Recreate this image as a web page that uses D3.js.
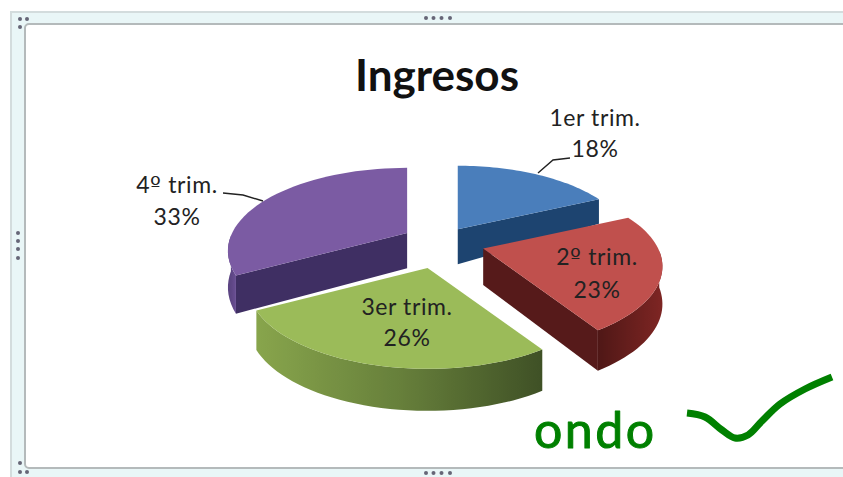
<!DOCTYPE html>
<html>
<head>
<meta charset="utf-8">
<script src="https://cdn.jsdelivr.net/npm/d3@7"></script>
<style>
  /* the ordinal sign takes the underlined form from DejaVu */
  @font-face { font-family: Ord; src: local("DejaVu Sans"); unicode-range: U+BA; }
  html, body { margin: 0; padding: 0; background: #fff; }
  svg { display: block; }
  text { font-family: Ord, Lato, "Open Sans", sans-serif; }
</style>
</head>
<body>
<script>
// values
var categories = ["1er trim.", "2º trim.", "3er trim.", "4º trim."];
var values = [18, 23, 26, 33];

var width = 843, height = 477;

var svg = d3.select("body").append("svg")
  .attr("width", width)
  .attr("height", height);
var defs = svg.append("defs");

// frame around the selected chart
var frame = svg.append("g").style("filter", "blur(0.6px)");
frame.append("rect").attr("x", 11).attr("y", 12).attr("width", 850).attr("height", 480).attr("fill", "#e9f6f7").attr("stroke", "#d3dcdd").attr("stroke-width", 2);
frame.append("rect").attr("x", 25).attr("y", 24).attr("width", 840).attr("height", 444).attr("rx", 4).attr("fill", "#fff").attr("stroke", "#b4babb").attr("stroke-width", 2);

// perspective: x goes right, z comes to the viewer.
// the perspective acts on the slice itself, the explode offset only moves it
var cx = 439, cy = 246, tiltK = 0.452, persp = 0.22 / 178;
var radii = [170, 175, 175, 175];
var explodeX = [35, 46, 46, 37], explodeZ = [44, 20, 50, 57];
var depth = 37;
var depthScale = d3.scaleLinear().domain([-130, -37, 60, 200]).range([0.55, 0.95, 1.03, 1.1]);

var pie = d3.pie().sort(null).value(d => d);
var arcs = pie(values);

// a point on a slice: a is the clockwise angle from the back of the pie
var point = (d, r, a, h) => {
  var mid = (d.startAngle + d.endAngle) / 2;
  var ex = explodeX[d.index] * Math.sin(mid), ez = -explodeZ[d.index] * Math.cos(mid);
  var x = r * Math.sin(a), z = -r * Math.cos(a);
  var s = 1 / (1 - z * persp);
  var zAll = ez + z * s;
  return [cx + ex + x * s, cy + ez * tiltK + z * tiltK * s + h * depthScale(zAll)];
};

var line = d3.line();
var topCols = ["#4a7ebb", "#c0504d", "#9bbb59", "#7b5ba3"];
var radialCols = ["#1d4470", "#561a1a", "#4b6029", "#3f2f63"];
var wallScale = [
  d3.scaleLinear().domain([0, 1]).range(["#1d4470", "#1d4470"]),
  d3.scaleLinear().domain([1.57, 2.58]).range(["#7d2523", "#4f1716"]),
  d3.scaleLinear().domain([2.58, 3.4, 4.21]).range(["#3f5126", "#67803b", "#88a54c"]),
  d3.scaleLinear().domain([4.21, 4.71]).range(["#6a4f93", "#5b4482"])
];

var order = [0, 3, 1, 2];
var chart = svg.append("g").style("filter", "blur(0.5px)");

order.forEach(i => {
  var d = arcs[i];
  var radius = radii[i];
  var g = chart.append("g");
  var angles = d3.range(0, 41).map(t => d.startAngle + (d.endAngle - d.startAngle) * t / 40);

  // radial walls, only when they face the viewer
  [d.startAngle, d.endAngle].forEach(a => {
    var q = [point(d, 0, a, 0), point(d, radius, a, 0), point(d, radius, a, depth), point(d, 0, a, depth)];
    var area = d3.polygonArea(q);
    var facing = a === d.startAngle ? area > 0 : area < 0;
    if (facing) g.append("path").attr("d", line(q) + "Z").attr("fill", radialCols[i]);
  });

  // outer wall as one shape, the shade runs along a gradient
  var front = angles.filter(a => Math.cos(a) < 0);
  if (front.length > 1) {
    var upper = front.map(a => point(d, radius, a, 0));
    var lower = front.map(a => point(d, radius, a, depth)).reverse();
    var x0 = upper[0][0], x1 = upper[upper.length - 1][0];
    var grad = defs.append("linearGradient").attr("id", "wall" + i)
      .attr("gradientUnits", "userSpaceOnUse")
      .attr("x1", x0).attr("x2", x1).attr("y1", 0).attr("y2", 0);
    front.forEach((a, k) => {
      grad.append("stop").attr("offset", k / (front.length - 1)).attr("stop-color", wallScale[i](a));
    });
    g.append("path").attr("d", line(upper.concat(lower)) + "Z").attr("fill", "url(#wall" + i + ")");
  }

  // top face
  var rim = angles.map(a => point(d, radius, a, 0));
  g.append("path").attr("d", line([point(d, 0, 0, 0)].concat(rim)) + "Z")
    .attr("fill", topCols[i]);
});

// title
svg.append("text").attr("x", 437).attr("y", 91).attr("text-anchor", "middle")
  .attr("font-size", 44).attr("font-weight", 700).attr("fill", "#111").text("Ingresos");

// labels
var labelPos = [[595, 126, 157], [597, 265, 298], [407, 315, 346], [177, 193, 225]];
categories.forEach((c, i) => {
  var t = svg.append("g").attr("fill", "#222").attr("font-size", 23).attr("letter-spacing", 0.6).attr("text-anchor", "middle");
  t.append("text").attr("x", labelPos[i][0]).attr("y", labelPos[i][1]).text(c);
  t.append("text").attr("x", labelPos[i][0]).attr("y", labelPos[i][2]).text(values[i] + "%");
});

// leader lines
[[[570, 158], [553, 160], [538, 173]], [[223, 193], [243, 195], [263, 201]]].forEach(l => {
  svg.append("path").attr("d", line(l)).attr("fill", "none").attr("stroke", "#222").attr("stroke-width", 1.4);
});

// handles of the selected frame
var handles = [[426, 18], [433.5, 18], [441.5, 18], [450, 18], [426, 473], [433.5, 473], [441.5, 473], [450, 473],
  [18, 233], [18, 241], [18, 249], [18, 258], [20, 19], [27, 19], [20, 27], [20, 463], [20, 472], [27, 472]];
svg.append("g").style("filter", "blur(0.5px)").selectAll("circle").data(handles).enter().append("circle")
  .attr("cx", d => d[0]).attr("cy", d => d[1]).attr("r", 2).attr("fill", "#667");

// the green note
var tick = [[687, 413], [705, 417], [722, 430], [735, 438], [748, 435], [762, 421], [780, 404], [805, 389], [832, 377]];
svg.append("path").attr("d", d3.line().curve(d3.curveCatmullRom)(tick))
  .attr("fill", "none").attr("stroke", "#008000").attr("stroke-width", 7);
svg.append("text").attr("x", 534).attr("y", 448).attr("font-size", 50).attr("letter-spacing", 2.5).attr("fill", "#008000")
  .attr("stroke", "#008000").attr("stroke-width", 1).attr("stroke-linejoin", "round").text("ondo");
</script>
</body>
</html>
